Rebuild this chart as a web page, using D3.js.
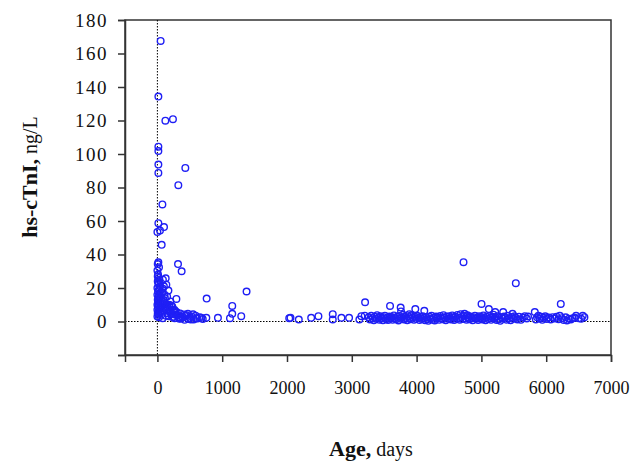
<!DOCTYPE html>
<html>
<head>
<meta charset="utf-8">
<script src="https://cdn.jsdelivr.net/npm/d3@7"></script>
<style>
  body { margin: 0; background: #fff; }
  svg { display: block; }
  text { font-family: "Liberation Serif", "Times New Roman", serif; fill: #111; }
</style>
</head>
<body>
<svg width="636" height="461"></svg>
<script>
// ages (days) and hs-cTnI (ng/L)
const ageDays = [
  50, 15, 123, 240, 15, 15, 15, 15, 431, 323, 77, 15, 102, 0, 40, 66,
  15, 5, 25, 0, 10, 20, 30, 5, 15, 40, 0, 25, 10, 50, 0, 20, 35, 5, 15, 45, 0, 25, 10, 30, 0, 20, 40, 5, 15, 0, 25, 10, 30, 5, 20, 35,
  318, 374, 128, 85, 138, 100, 170, 75, 110, 150, 90, 200, 120, 180, 70, 230, 140, 260, 100, 190, 300, 160, 220, 350, 280, 410, 130, 380, 250, 450, 330, 500, 550, 590, 600, 620, 560, 480, 650, 680, 700, 420, 293, 210, 60, 80, 65, 240,
  55, 95, 145, 175, 205, 265, 310, 360, 395, 470, 530, 115, 155, 185, 85, 235, 275, 340, 440, 515,
  760, 1376, 1155, 1155, 1120, 1294, 934, 755,
  2034, 2054, 2182, 2373, 2485, 2706, 2706, 2840, 2958, 3117, 3148, 3200,
  3205, 3590, 3754, 3760, 3888, 3980, 4119, 4724, 5531, 5002, 5115, 5213, 5336, 5480, 5824, 6225, 5720,
  3260, 3280, 3300, 3320, 3340, 3355, 3370, 3390, 3410, 3425, 3440, 3460, 3480, 3495, 3510, 3530, 3545, 3560, 3580, 3600,
  3615, 3630, 3650, 3665, 3680, 3700, 3720, 3735, 3750, 3770, 3790, 3805, 3820, 3840, 3855, 3870, 3890, 3905, 3920, 3940,
  3960, 3975, 3990, 4010, 4030, 4045, 4060, 4080, 4095, 4110, 4130, 4150, 4165, 4180, 4200, 4215, 4230, 4250, 4265, 4280,
  4300, 4315, 4330, 4350, 4365, 4380, 4400, 4415, 4430, 4450, 4465, 4480, 4500, 4515, 4530, 4550, 4565, 4580, 4600, 4615,
  4630, 4650, 4665, 4680, 4695, 4710, 4725, 4740, 4755, 4770, 4785, 4800, 4815, 4830, 4850, 4865, 4880, 4900, 4915, 4930,
  4950, 4965, 4980, 5000, 5015, 5030, 5050, 5065, 5080, 5100, 5120, 5135, 5150, 5170, 5185, 5200, 5220, 5235, 5250, 5270,
  5290, 5310, 5330, 5350, 5370, 5390, 5410, 5430, 5450, 5470, 5490, 5510, 5530, 5555, 5580, 5610, 5640, 5670, 5700, 5840,
  5860, 5880, 5900, 5920, 5940, 5960, 5985, 6010, 6040, 6070, 6100, 6130, 6160, 6190, 6210, 6240, 6270, 6300, 6320, 6350,
  6380, 6410, 6440, 6461, 6500, 6540, 6564, 6590
];
const hsTnI = [
  167.5, 134.3, 119.9, 120.8, 104.4, 101.8, 93.7, 88.7, 91.7, 81.4, 69.9, 58.7, 56.4, 53.4, 54.4, 45.8,
  35.3, 34.3, 32.4, 30.4, 28, 26, 25, 24, 22.5, 21, 20, 19, 18, 17, 16, 15, 14, 13, 12, 11, 10, 9.5, 8.5, 7.5, 7, 6, 5.5, 5, 4, 3, 2.5, 11, 16, 27, 23, 20,
  34.3, 30, 25.8, 25, 22, 21, 18.5, 17, 16, 15, 13, 12, 11, 10, 9, 9, 8, 7, 6.5, 6, 5.5, 5, 4.5, 4.8, 4, 4.2, 3.5, 3, 2.8, 3.8, 2.5, 2.2, 4.3, 3.5, 2, 1.8, 1.2, 1.5, 2.6, 2.2, 1.5, 1.0, 13.5, 9.5, 4, 2, 12, 6.5,
  8, 10.5, 7, 3.2, 5, 2, 3.6, 1.8, 2.4, 4.6, 3, 14, 9, 6.8, 19.5, 2.6, 6.2, 1.6, 3.2, 1.2,
  13.7, 17.9, 9.3, 4.6, 2.0, 3.2, 2.2, 2.2,
  2.0, 2.2, 1.2, 2.2, 3.2, 4.4, 1.2, 2.2, 2.2, 1.2, 3.2, 3.5,
  11.5, 9.3, 8.3, 6.0, 4.4, 7.4, 6.4, 35.4, 22.9, 10.5, 7.4, 5.6, 5.6, 4.6, 5.6, 10.5, 3.0,
  2.5, 1.2, 3.4, 2.0, 0.8, 2.9, 1.6, 3.8, 2.3, 1.1, 3.1, 1.9, 0.7, 2.6, 3.5, 1.4, 2.2, 0.9, 3.0, 1.8,
  2.7, 1.0, 3.6, 2.1, 1.3, 2.9, 0.6, 3.3, 1.7, 2.4, 4.0, 1.2, 2.8, 1.9, 0.8, 3.2, 2.0, 1.4, 3.7, 2.5,
  1.0, 2.9, 1.6, 3.4, 2.2, 0.9, 2.7, 1.5, 3.1, 2.0, 0.7, 2.6, 1.3, 0.4, 2.9, 1.8, 3.5, 1.1, 2.3, 0.6,
  3.0, 1.9, 2.6, 1.0, 3.3, 2.1, 1.4, 3.8, 2.4, 0.8, 2.9, 1.6, 3.2, 2.0, 1.2, 3.6, 2.5, 0.9, 2.8, 1.7,
  3.9, 2.2, 1.1, 4.4, 2.7, 1.5, 3.4, 4.6, 2.0, 1.0, 3.7, 2.4, 1.3, 3.0, 1.9, 0.8, 2.6, 3.5, 1.6, 2.3,
  0.9, 3.1, 1.8, 2.7, 1.2, 3.6, 2.1, 0.7, 2.9, 1.5, 3.3, 2.2, 1.0, 2.8, 4.1, 1.7, 2.5, 0.9, 3.2, 1.4,
  0.4, 2.6, 1.8, 3.0, 2.2, 1.1, 3.4, 2.0, 0.8, 2.7, 1.6, 3.1, 2.3, 1.2, 2.9, 1.0, 2.4, 3.2, 1.8, 1.2,
  2.6, 3.5, 1.8, 2.9, 1.0, 2.3, 3.1, 1.5, 2.4, 1.2, 2.6, 1.8, 2.9, 1.4, 3.4, 2.0, 0.9, 2.5, 0.6, 1.7,
  1.2, 1.9, 2.2, 3.4, 2.0, 1.6, 3.4, 2.6
];
const xTicks = [0, 1000, 2000, 3000, 4000, 5000, 6000, 7000];
const yTicks = [-20, 0, 20, 40, 60, 80, 100, 120, 140, 160, 180];

const svg = d3.select('svg');
const m = {left: 125, top: 20, right: 25, bottom: 106};
const W = 636 - m.left - m.right;
const H = 461 - m.top - m.bottom;

const x = d3.scaleLinear().domain([-500, 7000]).range([0, W]);
const y = d3.scaleLinear().domain([-20, 180]).range([H, 0]);

const g = svg.append('g').attr('transform', `translate(${m.left},${m.top})`);

// frame
g.append('rect')
  .attr('width', W).attr('height', H)
  .attr('fill', 'none').attr('stroke', '#333').attr('stroke-width', 1.5);

// reference lines at 0
g.append('line')
  .attr('x1', 0).attr('x2', W).attr('y1', y(0)).attr('y2', y(0))
  .attr('stroke', '#000').attr('stroke-width', 1).attr('stroke-dasharray', '1.5,1.5');
g.append('line')
  .attr('x1', x(0)).attr('x2', x(0)).attr('y1', 0).attr('y2', H)
  .attr('stroke', '#000').attr('stroke-width', 1).attr('stroke-dasharray', '1.5,1.5');

const xAxis = g.append('g')
  .attr('transform', `translate(0,${H})`)
  .call(d3.axisBottom(x).tickValues(xTicks).tickSize(7).tickSizeOuter(7).tickPadding(19).tickFormat(d3.format('d')));
const yAxis = g.append('g')
  .call(d3.axisLeft(y).tickValues(yTicks).tickSize(7).tickSizeOuter(7).tickPadding(10)
    .tickFormat(d => d < 0 ? '' : d));

[xAxis, yAxis].forEach(a => {
  a.attr('font-family', null);
  a.selectAll('path, line').attr('stroke', '#333').attr('stroke-width', 1.5);
  a.selectAll('text')
    .style('font-family', '"Liberation Serif", "Times New Roman", serif')
    .attr('font-size', 18).attr('fill', '#111');
});
yAxis.selectAll('text').attr('font-size', 19).attr('letter-spacing', 1.5);

// points
g.append('g').selectAll('circle')
  .data(ageDays.map((a, i) => [a, hsTnI[i]]))
  .join('circle')
  .attr('cx', d => x(d[0]))
  .attr('cy', d => y(d[1]))
  .attr('r', 3.3)
  .attr('fill', 'none')
  .attr('stroke', '#1f1ff5')
  .attr('stroke-width', 1.4);

// axis titles
const xt = svg.append('text')
  .attr('x', 371).attr('y', 456)
  .attr('text-anchor', 'middle');
xt.append('tspan').attr('font-weight', 'bold').attr('font-size', 22).text('Age,');
xt.append('tspan').attr('font-size', 20).text(' days');

const yt = svg.append('text')
  .attr('transform', 'translate(37,177) rotate(-90)')
  .attr('text-anchor', 'middle');
yt.append('tspan').attr('font-weight', 'bold').attr('font-size', 22).text('hs-cTnI,');
yt.append('tspan').attr('font-size', 20).text(' ng/L');
</script>
</body>
</html>
